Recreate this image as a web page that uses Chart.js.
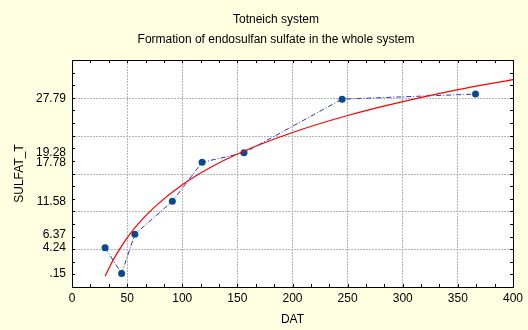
<!DOCTYPE html>
<html>
<head>
<meta charset="utf-8">
<script src="https://cdn.jsdelivr.net/npm/chart.js@4.4.1/dist/chart.umd.min.js"></script>
<style>
  body { margin: 0; background: #ffffe2; }
  #wrap { width: 528px; height: 330px; }
</style>
</head>
<body>
<div id="wrap"><canvas id="chart" width="528" height="330"></canvas></div>
<script>
// Measured sulfate (day vs. amount)
const datDays = [30, 45, 57, 91, 118, 156, 245, 366];
const sulfatValues = [4.24, 0.15, 6.37, 11.58, 17.78, 19.28, 27.79, 28.6];

// Fitted curve, read along its length
const fitDays = [30, 35, 40, 50, 60, 75, 100, 125, 150, 200, 250, 300, 350, 400];
const fitValues = [-0.3, 1.5, 3.1, 5.8, 8.0, 10.7, 14.2, 16.9, 19.1, 22.5, 25.2, 27.4, 29.3, 30.9];

// Axis labels
const yTickLabels = [".15", "4.24", "6.37", "11.58", "17.78", "19.28", "27.79"];
const xTickLabels = [0, 50, 100, 150, 200, 250, 300, 350, 400];
const yGridLines = [4, 10, 16, 22, 28];
const titleLines = ["Totneich system", "Formation of endosulfan sulfate in the whole system"];

const FONT = "'Liberation Sans', Arial, sans-serif";
const GRID = "#b4b4b4";

// white plot area, dotted horizontal grid, black frame with small inward ticks
const framePlugin = {
    id: "frame",
    beforeDraw(c) {
        const a = c.chartArea, ctx = c.ctx;
        ctx.save();
        ctx.fillStyle = "#ffffff";
        ctx.fillRect(a.left, a.top, a.right - a.left, a.bottom - a.top);
        ctx.restore();
    },
    beforeDatasetsDraw(c) {
        const a = c.chartArea, ctx = c.ctx, y = c.scales.y;
        ctx.save();
        ctx.strokeStyle = GRID;
        ctx.lineWidth = 1;
        ctx.setLineDash([2, 1]);
        yGridLines.forEach(v => {
            const py = Math.round(y.getPixelForValue(v)) + 0.5;
            ctx.beginPath();
            ctx.moveTo(a.left, py);
            ctx.lineTo(a.right, py);
            ctx.stroke();
        });
        ctx.restore();
    },
    afterDraw(c) {
        const a = c.chartArea, ctx = c.ctx, x = c.scales.x, y = c.scales.y;
        ctx.save();
        ctx.strokeStyle = "#000";
        ctx.lineWidth = 1;
        ctx.beginPath();
        for (let i = 1; i < 24; i++) {
            const px = Math.round(x.getPixelForValue(i * 50 / 3)) + 0.5;
            ctx.moveTo(px, a.bottom); ctx.lineTo(px, a.bottom - 3);
            ctx.moveTo(px, a.top); ctx.lineTo(px, a.top + 3);
        }
        for (let v = 0; v < 34; v += 2) {
            const py = Math.round(y.getPixelForValue(v)) + 0.5;
            ctx.moveTo(a.left, py); ctx.lineTo(a.left + 3, py);
            ctx.moveTo(a.right, py); ctx.lineTo(a.right - 3, py);
        }
        ctx.stroke();
        ctx.strokeRect(Math.round(a.left) + 0.5, Math.round(a.top) + 0.5,
            Math.round(a.right - a.left), Math.round(a.bottom - a.top));

        // title
        ctx.fillStyle = "#000";
        ctx.font = "12px " + FONT;
        ctx.textAlign = "center";
        ctx.textBaseline = "middle";
        titleLines.forEach((t, i) => ctx.fillText(t, 276, 20 + i * 20));
        ctx.restore();
    }
};

const ctx = document.querySelector("#chart").getContext("2d");

new Chart(ctx, {
    type: "scatter",
    data: {
        datasets: [
            {
                label: "fit",
                data: fitDays.map((d, i) => ({ x: d, y: fitValues[i] })),
                showLine: true,
                borderColor: "#ff0000",
                borderWidth: 1.2,
                pointRadius: 0,
                cubicInterpolationMode: "monotone",
            },
            {
                label: "SULFAT_T",
                data: datDays.map((d, i) => ({ x: d, y: sulfatValues[i] })),
                showLine: true,
                borderColor: "#3030cc",
                borderWidth: 1,
                borderDash: [5, 2, 1, 2],
                pointRadius: 3.5,
                pointBackgroundColor: "#0b4a8a",
                pointBorderColor: "#0b4a8a",
                pointBorderWidth: 0,
            },
        ]
    },
    options: {
        responsive: false,
        animation: false,
        devicePixelRatio: 1,
        layout: { padding: { top: 60, right: 15, left: 0, bottom: 0 } },
        plugins: {
            legend: { display: false },
            tooltip: { enabled: false },
        },
        scales: {
            x: {
                type: "linear",
                min: 0,
                max: 400,
                afterBuildTicks: s => { s.ticks = xTickLabels.map(v => ({ value: v })); },
                afterFit: s => { s.height = 43; },
                ticks: {
                    autoSkip: false,
                    maxRotation: 0,
                    padding: 4,
                    color: "#000",
                    font: { family: FONT, size: 12 },
                },
                grid: {
                    drawTicks: false,
                    color: c => (c.tick && (c.tick.value === 0 || c.tick.value === 400)) ? "rgba(0,0,0,0)" : GRID,
                },
                border: { display: false, dash: [2, 1] },
                title: {
                    display: true,
                    text: "DAT",
                    color: "#000",
                    font: { family: FONT, size: 12 },
                    padding: { top: 0, bottom: 3 },
                },
            },
            y: {
                type: "linear",
                min: -2,
                max: 34,
                afterBuildTicks: s => { s.ticks = yTickLabels.map(t => ({ value: parseFloat(t) })); },
                afterFit: s => { s.width = 72; },
                ticks: {
                    autoSkip: false,
                    padding: 6,
                    color: "#000",
                    font: { family: FONT, size: 12 },
                    callback: (v, i) => yTickLabels[i],
                },
                grid: { display: false, drawTicks: false },
                border: { display: false },
                title: {
                    display: true,
                    text: "SULFAT_T",
                    color: "#000",
                    font: { family: FONT, size: 12 },
                    padding: { top: 12, bottom: 0 },
                },
            },
        },
    },
    plugins: [framePlugin],
});
</script>
</body>
</html>
